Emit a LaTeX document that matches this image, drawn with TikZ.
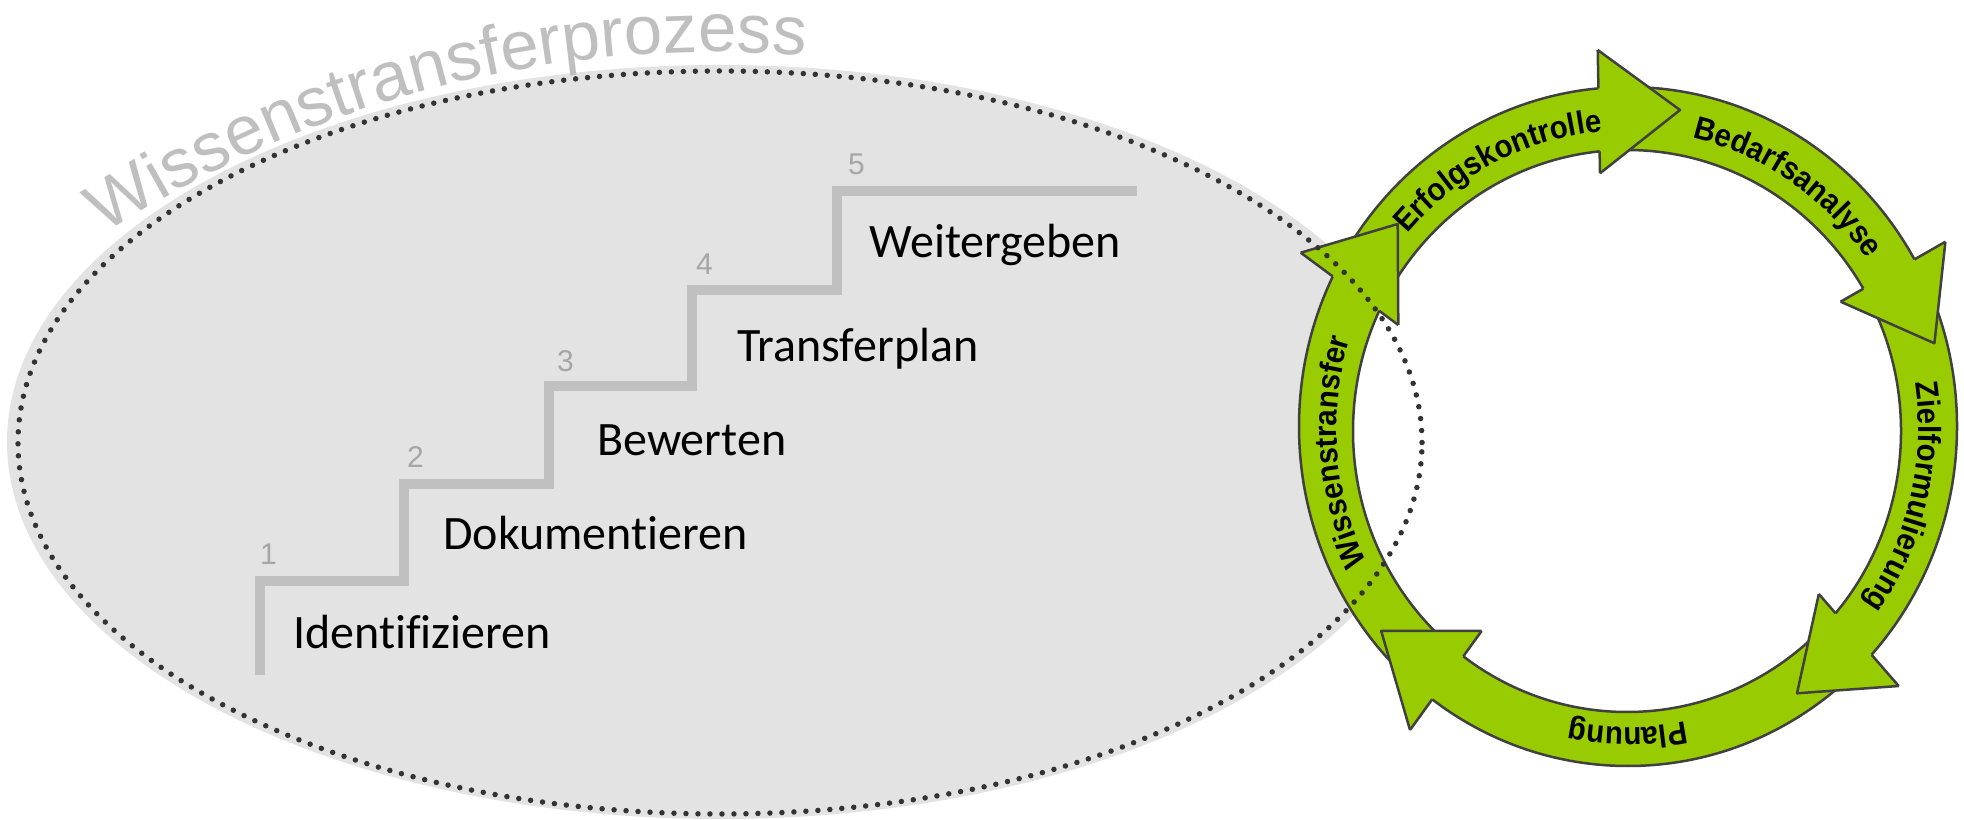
\documentclass[tikz,border=0pt]{standalone}
\usepackage{fontspec}
\setmainfont{Liberation Sans}
\newfontfamily\calib{Carlito}[Ligatures=NoCommon]
\newfontfamily\ringfont{Liberation Sans}[FakeStretch=0.92]
\newfontfamily\titlefont{Liberation Sans}
\usetikzlibrary{decorations.text,calc}
\definecolor{ringgreen}{HTML}{99CC00}
\definecolor{ringedge}{HTML}{404040}
\definecolor{panelfill}{HTML}{E3E3E3}
\definecolor{dotgray}{HTML}{333333}
\definecolor{stairgray}{HTML}{C0C0C0}
\definecolor{numgray}{HTML}{A6A6A6}
\definecolor{titlegray}{HTML}{BFBFBF}
\def\ringfmt{\ringfont\fontsize{32}{38}\selectfont\bfseries}
\def\titlefmt{\titlefont\fontsize{69}{82}\selectfont\color{titlegray}}
\begin{document}
\begin{tikzpicture}[x=1pt,y=1pt,
  stairtext/.style={anchor=base west, inner sep=0pt, font=\calib\fontsize{48}{58}\selectfont},
  stairnum/.style={anchor=base west, inner sep=0pt, text=numgray, font=\fontsize{30}{36}\selectfont},
  ringline/.style={draw=ringedge, line width=2.5pt, line join=round},
  ringlabel/.style={decorate, decoration={text along path, text align=center, text={|\ringfmt|#1}}}]
\useasboundingbox (0,0) rectangle (1964,819);

% grey panel behind the staircase
\fill[panelfill] (720,377) ellipse [x radius=713pt, y radius=377pt];

% cycle ring: white hole, green band, outlines
\fill[white] (1627,388) ellipse [x radius=274pt, y radius=281pt];
\fill[ringgreen, even odd rule] (1628,392.5) ellipse [x radius=329pt, y radius=339.5pt]
                                (1627,388) ellipse [x radius=274pt, y radius=281pt];
\draw[ringline] (1628,392.5) ellipse [x radius=329pt, y radius=339.5pt];
\draw[ringline] (1627,388) ellipse [x radius=274pt, y radius=281pt];

% arrowheads: two back corners and the tip
\coordinate (a1-b1) at (1597.7,769);   \coordinate (a1-t) at (1680,709);    \coordinate (a1-b2) at (1600,645.7);
\coordinate (a2-b1) at (1945.4,577.3); \coordinate (a2-t) at (1934.4,475.7); \coordinate (a2-b2) at (1840.6,517.3);
\coordinate (a3-b1) at (1818.8,225);   \coordinate (a3-t) at (1797,125.7);  \coordinate (a3-b2) at (1898.7,133);
\coordinate (a4-b1) at (1481.6,188);   \coordinate (a4-t) at (1381.2,188);  \coordinate (a4-b2) at (1410,89);
\coordinate (a5-b1) at (1300.7,566.3); \coordinate (a5-t) at (1397.7,595);  \coordinate (a5-b2) at (1398.3,494);

\foreach \h in {a1,a2,a3,a4,a5} {
  \fill[ringgreen] (\h-b1) -- (\h-t) -- (\h-b2) -- cycle;
  \draw[ringline] (\h-b1) -- (\h-t) -- (\h-b2);
}
% back edges only where they stick out of the band
\begin{scope}[even odd rule]
  \clip (0,0) rectangle (1964,819)
        (1628,392.5) ellipse [x radius=329pt, y radius=339.5pt]
        (1627,388) ellipse [x radius=274pt, y radius=281pt];
  \foreach \h in {a1,a2,a3,a4,a5} { \draw[ringline] (\h-b1) -- (\h-b2); }
\end{scope}

% labels running clockwise round the ring
\path[ringlabel=Erfolgskontrolle] ($(1627.5,390)+(147:291pt and 298.5pt)$) arc [start angle=147, end angle=87, x radius=291pt, y radius=298.5pt];
\path[ringlabel=Bedarfsanalyse] ($(1627.5,390)+(86:291pt and 298.5pt)$) arc [start angle=86, end angle=26, x radius=291pt, y radius=298.5pt];
\path[ringlabel=Zielformulierung] ($(1627.5,390)+(16.5:291pt and 298.5pt)$) arc [start angle=16.5, end angle=-43.5, x radius=291pt, y radius=298.5pt];
\path[ringlabel=Planung] ($(1627.5,390)+(-60:291pt and 298.5pt)$) arc [start angle=-60, end angle=-120, x radius=291pt, y radius=298.5pt];
\path[ringlabel=Wissenstransfer] ($(1627.5,390)+(214.5:291pt and 298.5pt)$) arc [start angle=214.5, end angle=154.5, x radius=291pt, y radius=298.5pt];

% staircase
\draw[stairgray, line width=10pt] (260,144) |- (404,238) |- (549,335) |- (692,433) |- (837,529) |- (1137,628);

\node[stairnum] (n1) at (260,254) {1};
\node[stairnum] (n2) at (407,351) {2};
\node[stairnum] (n3) at (557,447) {3};
\node[stairnum] (n4) at (696,544) {4};
\node[stairnum] (n5) at (848,644) {5};

\node[stairtext] (s1) at (293,170) {Identifizieren};
\node[stairtext] (s2) at (443,269) {Dokumentieren};
\node[stairtext] (s3) at (597,363) {Bewerten};
\node[stairtext] (s4) at (737,457) {Transferplan};
\node[stairtext] (s5) at (869,561) {Weitergeben};

% arched title
\path[decorate, decoration={text along path, text align=left, text={|\titlefmt|Wissenstransferprozess}}]
  ($(716,-349)+(123.2:1116pt)$) arc [start angle=123.2, end angle=75, radius=1116pt];

% dotted outline of the panel, on top of everything
\draw[dotgray, line width=5.5pt, line cap=round, dash pattern=on 0pt off 12pt]
  (720,376.5) ellipse [x radius=702pt, y radius=371.5pt];
\end{tikzpicture}
\end{document}
